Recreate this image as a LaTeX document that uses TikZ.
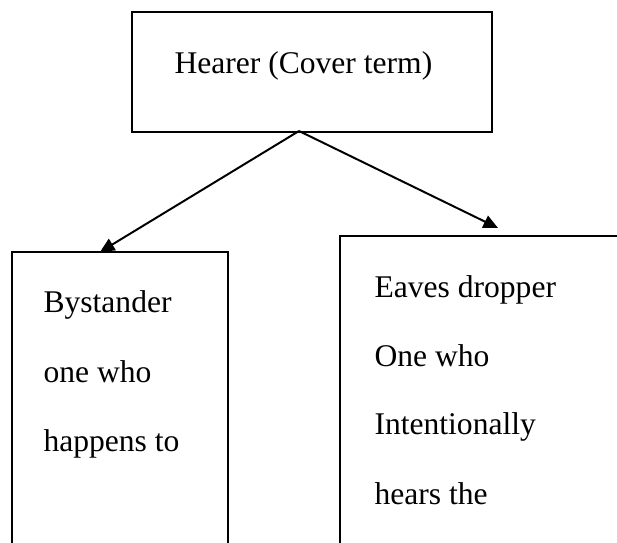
\documentclass[tikz,border=0pt]{standalone}
\usepackage{fontspec}
\setmainfont{Liberation Serif}
\usetikzlibrary{arrows.meta}

\newcommand{\px}{0.38pt}

\tikzset{
  box/.style={draw, line width=0.75pt, inner sep=0pt, anchor=north west},
  boxline/.style={anchor=base west, inner sep=0pt, font=\fontsize{12}{14}\selectfont},
  arr/.style={line width=0.75pt, -{Triangle[length=5.5pt,width=5pt]}}
}

\begin{document}
\begin{tikzpicture}[x=\px, y=-\px]

    % --- Frame (picture is cut at right and bottom) ---
    \useasboundingbox (0,0) rectangle (617,543);
    \clip (0,0) rectangle (617,543);

    % --- Boxes ---
    \node[box, minimum width=360*\px, minimum height=120*\px] (hearer) at (131,11) {};
    \node[box, minimum width=216*\px, minimum height=330*\px] (bystander) at (11,251) {};
    \node[box, minimum width=320*\px, minimum height=340*\px] (eaves) at (339,235) {};

    % --- Texts ---
    \node[boxline] (hearertxt) at (174,74) {Hearer (Cover term)};

    \node[boxline] (by1) at (43,313) {Bystander};
    \node[boxline] (by2) at (43,383) {one who};
    \node[boxline] (by3) at (43,452) {happens to};

    \node[boxline] (ev1) at (374,298) {Eaves dropper};
    \node[boxline] (ev2) at (374,367) {One who};
    \node[boxline] (ev3) at (374,435) {Intentionally};
    \node[boxline] (ev4) at (374,505) {hears the};

    % --- Arrows ---
    \coordinate (split) at (299,131); % on bottom edge of hearer
    \coordinate (bytip) at (100,252); % on top edge of bystander
    \coordinate (evtip) at (498,228); % just above eaves

    \draw[arr] (split) -- (bytip);
    \draw[arr] (split) -- (evtip);

\end{tikzpicture}
\end{document}
